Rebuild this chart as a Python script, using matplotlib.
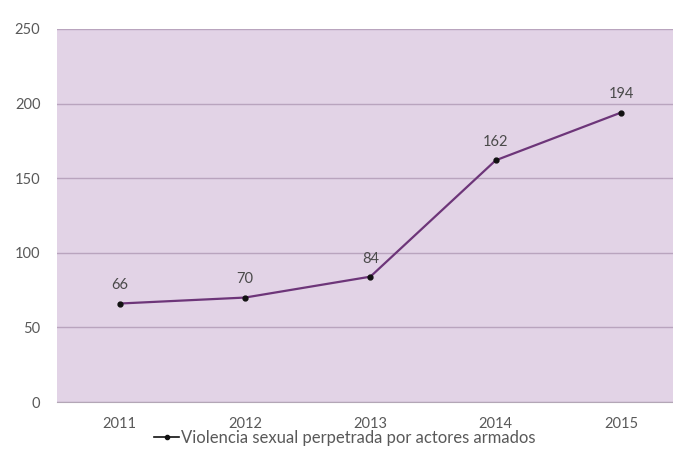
import matplotlib
matplotlib.use("Agg")
import matplotlib.pyplot as plt
from matplotlib.lines import Line2D

years = ["2011", "2012", "2013", "2014", "2015"]
values = [66, 70, 84, 162, 194]
series_name = "Violencia sexual perpetrada por actores armados"
yticks = [0, 50, 100, 150, 200, 250]

plt.rcParams['font.family'] = ['Lato', 'DejaVu Sans']

fig = plt.figure(figsize=(6.73, 4.66), dpi=100)
ax = fig.add_axes([57/673, 64/466, 1 - 57/673, (402-29)/466])
ax.set_facecolor("#e2d3e6")

x = list(range(len(years)))
ax.plot(x, values, color="#6d3579", lw=1.6, zorder=3)
ax.plot(x, values, 'o', color="#111111", ms=3.5, zorder=4)
for xi, v in zip(x, values):
    ax.annotate(str(v), (xi, v), xytext=(0, 8), textcoords="offset points",
                ha="center", va="bottom", fontsize=10.5, color="#4a4a4a")

ax.set_xlim(-0.5, (673-119)/125.5)
ax.set_ylim(0, 250)
ax.set_yticks(yticks)
ax.set_xticks(x)
ax.set_xticklabels(years)
ax.grid(axis='y', color="#b9a4be", lw=1)
ax.set_axisbelow(True)
for s in ["left", "right", "top"]:
    ax.spines[s].set_visible(False)
ax.spines["bottom"].set_color("#b3a6b6")
ax.tick_params(axis='both', length=0, labelsize=10.5, colors="#595959")
ax.tick_params(axis='x', pad=11)
ax.tick_params(axis='y', pad=12)

handle = Line2D([], [], color="#111111", lw=1.2, marker='o', ms=3)
fig.legend([handle], [series_name], loc="center", bbox_to_anchor=(345/673, 1 - 438/466),
           frameon=False, fontsize=12, labelcolor="#595959", handlelength=1.5,
           handletextpad=0.1)

fig.savefig("out.png", dpi=100)
